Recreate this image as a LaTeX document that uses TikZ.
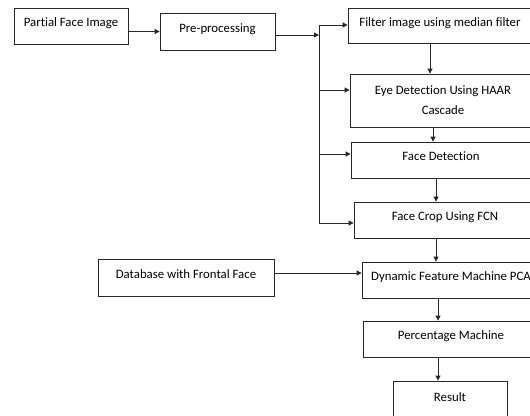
\documentclass[tikz,border=0pt]{standalone}
\usepackage{fontspec}
\setmainfont[Ligatures=NoCommon]{Carlito}
\usetikzlibrary{arrows.meta}
\begin{document}
\begin{tikzpicture}[x=1pt,y=-1pt,
  box/.style={draw=black!85,line width=0.8pt,rectangle,inner sep=0pt,align=center,
    font=\fontsize{12.8}{20}\selectfont,text height=8.5pt,text depth=7.5pt},
  box2/.style={draw=black!85,line width=0.8pt,rectangle,inner sep=0pt,align=center,
    font=\fontsize{12.8}{20}\selectfont},
  arr/.style={line width=0.8pt,draw=black!85,-{Triangle[length=5pt,width=5pt]}},
  ln/.style={line width=0.8pt,draw=black!85}]
\useasboundingbox (0,0) rectangle (530,415);
\clip (0,0) rectangle (530,415);
\node[box,minimum width=114pt,minimum height=36pt] (pfi) at (71,26) {Partial Face Image};
\node[box,minimum width=115pt,minimum height=37pt] (pre) at (217.5,31.5) {Pre-processing};
\node[box,minimum width=184pt,minimum height=35pt] (filt) at (440,25.5) {Filter image using median filter};
\node[box2,minimum width=186pt,minimum height=53pt] (eye) at (443,100.5) {Eye Detection Using HAAR\\Cascade};
\node[box,minimum width=180pt,minimum height=36pt] (fd) at (441,160) {Face Detection};
\node[box,minimum width=182pt,minimum height=36pt] (fc) at (445,220) {Face Crop Using FCN};
\node[box,minimum width=176pt,minimum height=37pt] (db) at (186,277.5) {Database with Frontal Face};
\node[box,minimum width=178pt,minimum height=36pt] (dyn) at (451,280) {Dynamic Feature Machine PCA};
\node[box,minimum width=176pt,minimum height=36pt] (pct) at (451,339) {Percentage Machine};
\node[box,minimum width=114pt,minimum height=39pt] (res) at (450,400.5) {Result};
% helper coordinates
\coordinate (b0) at (319,35);
\coordinate (b1) at (319,25);
\coordinate (b2) at (319,90);
\coordinate (b3) at (319,154);
\coordinate (b4) at (319,223);
\coordinate (c1) at (430,0);
\coordinate (c2) at (433,0);
\coordinate (c3) at (436,0);
\coordinate (c4) at (438,0);
\coordinate (r1) at (0,273);
% connectors
\draw[arr] (pfi.east |- pre.west) -- (pre.west);
\draw[arr] (pre.east |- b0) -- (b0);
\draw[ln] (b1) -- (b4);
\draw[arr] (b1) -- (filt.west |- b1);
\draw[arr] (b2) -- (eye.west |- b2);
\draw[arr] (b3) -- (fd.west |- b3);
\draw[arr] (b4) -- (fc.west |- b4);
\draw[arr] (filt.south -| c1) -- (eye.north -| c1);
\draw[arr] (eye.south -| c2) -- (fd.north -| c2);
\draw[arr] (fd.south -| c3) -- (fc.north -| c3);
\draw[arr] (fc.south -| c3) -- (dyn.north -| c3);
\draw[arr] (db.east |- r1) -- (dyn.west |- r1);
\draw[arr] (dyn.south -| c4) -- (pct.north -| c4);
\draw[arr] (pct.south -| c4) -- (res.north -| c4);
\end{tikzpicture}
\end{document}
